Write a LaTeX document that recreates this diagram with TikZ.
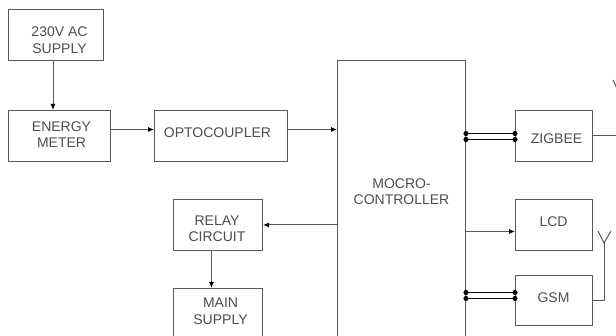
\documentclass[tikz,border=0pt]{standalone}
\usepackage{fontspec}
\setmainfont{Liberation Sans}
\usetikzlibrary{arrows.meta}

\tikzset{
  blockbox/.style={draw=black!65, line width=1pt, anchor=north west, inner sep=0pt},
  blocktext/.style={align=center, font=\fontsize{14}{16.5}\selectfont, text=black!70, inner sep=0pt},
  flow/.style={draw=black!65, line width=1pt, -{Latex[length=6pt,width=5pt,black]}},
  wire/.style={draw=black!65, line width=1pt},
  bus/.style={draw=black, line width=1pt, shorten <=-2.5pt, shorten >=-2.5pt, {Circle[length=5pt,width=5pt,black]}-{Circle[length=5pt,width=5pt,black]}}
}

\begin{document}
\begin{tikzpicture}[x=1pt, y=-1pt]
    \useasboundingbox (0, 0) rectangle (616, 336);
    \clip (0, 0) rectangle (616, 336);

    \node[blockbox, minimum width=95pt, minimum height=51pt, label={[blocktext, xshift=3.5pt, yshift=-5pt]center:230V AC\\SUPPLY}] (supply) at (8, 9) {};
    \node[blockbox, minimum width=102pt, minimum height=51pt, label={[blocktext, xshift=2pt, yshift=1.5pt]center:ENERGY\\METER}] (meter) at (8, 110) {};
    \node[blockbox, minimum width=133pt, minimum height=51pt, label={[blocktext, xshift=-3.5pt, yshift=3.5pt]center:OPTOCOUPLER}] (opto) at (154, 110) {};
    \node[blockbox, minimum width=128pt, minimum height=290pt, label={[blocktext, yshift=14pt]center:MOCRO-\\CONTROLLER}] (micro) at (337, 60) {};
    \node[blockbox, minimum width=89pt, minimum height=51pt, label={[blocktext, xshift=-1pt, yshift=-4pt]center:RELAY\\CIRCUIT}] (relay) at (173, 199) {};
    \node[blockbox, minimum width=89pt, minimum height=60pt, label={[blocktext, xshift=2.5pt, yshift=7pt]center:MAIN\\SUPPLY}] (mains) at (173, 288) {};
    \node[blockbox, minimum width=77pt, minimum height=51pt, label={[blocktext, xshift=2.5pt, yshift=-2.5pt]center:ZIGBEE}] (zigbee) at (515, 110) {};
    \node[blockbox, minimum width=77pt, minimum height=51pt, label={[blocktext, xshift=-.5pt, yshift=3.5pt]center:LCD}] (lcd) at (515, 199) {};
    \node[blockbox, minimum width=77pt, minimum height=50pt, label={[blocktext, xshift=-.5pt, yshift=3pt]center:GSM}] (gsm) at (515, 275) {};

    \coordinate (optoin) at ([yshift=6.5pt]opto.west);
    \coordinate (microin) at ([yshift=6.5pt]opto.east);
    \coordinate (lcdin) at ([yshift=-6.5pt]lcd.west);

    \draw[flow] ([xshift=-3pt]supply.south) -- ([xshift=-6.5pt]meter.north);
    \draw[flow] (meter.east |- optoin) -- (optoin);
    \draw[flow] (microin) -- (micro.west |- microin);
    \draw[flow] (micro.west |- relay.east) -- (relay.east);
    \draw[flow] ([xshift=-6.5pt]relay.south) -- ([xshift=-6.5pt]mains.north);
    \draw[flow] (micro.east |- lcdin) -- (lcdin);

    % serial links
    \coordinate (zigbeeup) at ([yshift=2.5pt]zigbee.west);
    \coordinate (zigbeedown) at ([yshift=-3.5pt]zigbee.west);
    \coordinate (gsmup) at ([yshift=8pt]gsm.west);
    \coordinate (gsmdown) at ([yshift=2pt]gsm.west);
    \draw[bus] (micro.east |- zigbeeup) -- (zigbeeup);
    \draw[bus] (micro.east |- zigbeedown) -- (zigbeedown);
    \draw[bus] (micro.east |- gsmup) -- (gsmup);
    \draw[bus] (micro.east |- gsmdown) -- (gsmdown);

    % aerials
    \coordinate (zigbeemast) at (620, 95);
    \coordinate (gsmmast) at (604, 243);
    \draw[wire] (zigbee.east) -- (zigbee.east -| zigbeemast) -- (zigbeemast);
    \draw[wire] (613, 80) -- (zigbeemast) -- (627, 80);
    \draw[wire] (gsm.east) -- (gsm.east -| gsmmast) -- (gsmmast);
    \draw[wire] (598, 231) -- (gsmmast) -- (611, 231);
\end{tikzpicture}
\end{document}
